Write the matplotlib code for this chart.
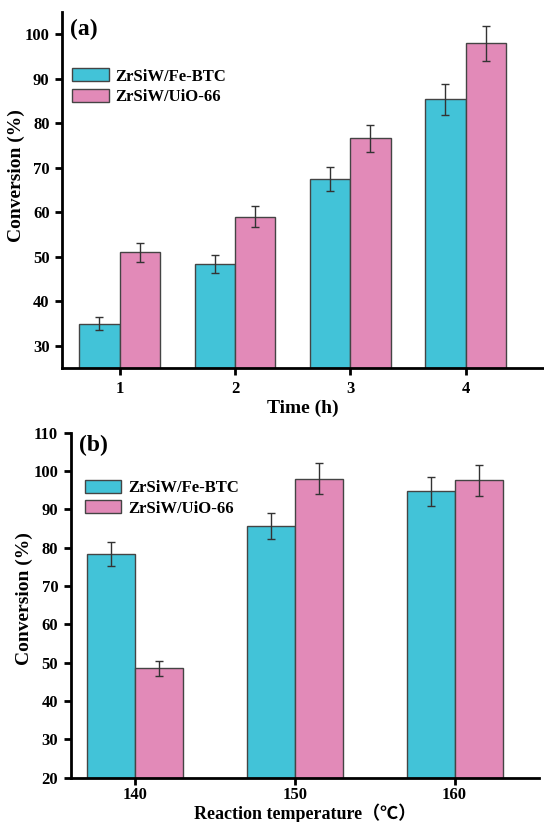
import matplotlib
matplotlib.use("Agg")
import matplotlib.pyplot as plt
import numpy as np

plt.rcParams['font.family'] = ['Liberation Serif', 'Noto Sans CJK SC', 'DejaVu Sans']
plt.rcParams['font.weight'] = 'bold'

series = ['ZrSiW/Fe-BTC', 'ZrSiW/UiO-66']
colors = ['#42C3D8', '#E28AB8']

# panel (a): conversion vs time
time_h = [1, 2, 3, 4]
fe_time = [35.0, 48.4, 67.5, 85.4]
fe_time_err = [1.5, 2.0, 2.7, 3.5]
uio_time = [51.0, 59.0, 76.6, 98.0]
uio_time_err = [2.2, 2.4, 3.0, 3.9]

# panel (b): conversion vs reaction temperature
temp_c = [140, 150, 160]
fe_temp = [78.3, 85.6, 94.7]
fe_temp_err = [3.1, 3.4, 3.8]
uio_temp = [48.5, 98.0, 97.6]
uio_temp_err = [2.0, 4.0, 4.0]

fig = plt.figure(figsize=(5.44, 8.22), dpi=100)
ax1 = fig.add_axes([0.114, 0.5523, 0.886, 0.4331])
ax2 = fig.add_axes([0.130, 0.0539, 0.8614, 0.4197])

err_kw = dict(ecolor='#333333', elinewidth=1.0, capsize=3, capthick=1.0)


def style(ax):
    for s in ['top', 'right']:
        ax.spines[s].set_visible(False)
    for s in ['left', 'bottom']:
        ax.spines[s].set_linewidth(2)
    ax.tick_params(direction='out', length=5, width=2, labelsize=12, pad=4)
    for lab in ax.get_xticklabels() + ax.get_yticklabels():
        lab.set_fontweight('bold')


x = np.array(time_h, dtype=float)
w = 0.35
ax1.bar(x - w, fe_time, w, align='edge', color=colors[0], edgecolor='#444444',
        linewidth=1, yerr=fe_time_err, error_kw=err_kw, label=series[0])
ax1.bar(x, uio_time, w, align='edge', color=colors[1], edgecolor='#444444',
        linewidth=1, yerr=uio_time_err, error_kw=err_kw, label=series[1])
ax1.set_xlim(0.5, 4.68)
ax1.set_ylim(25, 105)
ax1.set_xticks(time_h)
ax1.set_yticks(range(30, 101, 10))
style(ax1)
ax1.set_xlabel('Time (h)', fontsize=14, fontweight='bold', labelpad=2)
ax1.set_ylabel('Conversion (%)', fontsize=14, fontweight='bold')
ax1.yaxis.set_label_coords(-0.077, 0.54)
ax1.text(0.017, 0.95, '(a)', transform=ax1.transAxes, fontsize=17,
         fontweight='bold', va='center', ha='left')
ax1.legend(loc='upper left', bbox_to_anchor=(-0.003, 0.875), frameon=False,
           handlelength=2.2, handleheight=0.85,
           labelspacing=0.25, handletextpad=0.4, borderpad=0.2,
           prop={'weight': 'bold', 'size': 12})

t = np.array(temp_c, dtype=float)
w2 = 3.0
ax2.bar(t - w2, fe_temp, w2, align='edge', color=colors[0], edgecolor='#444444',
        linewidth=1, yerr=fe_temp_err, error_kw=err_kw, label=series[0])
ax2.bar(t, uio_temp, w2, align='edge', color=colors[1], edgecolor='#444444',
        linewidth=1, yerr=uio_temp_err, error_kw=err_kw, label=series[1])
ax2.set_xlim(136, 165.3)
ax2.set_ylim(20, 110)
ax2.set_xticks(temp_c)
ax2.set_yticks(range(20, 111, 10))
style(ax2)
ax2.tick_params(axis='x', pad=2)
ax2.set_xlabel('Reaction temperature（℃）', fontsize=13, fontweight='bold',
               labelpad=0)
ax2.set_ylabel('Conversion (%)', fontsize=14, fontweight='bold')
ax2.yaxis.set_label_coords(-0.080, 0.52)
ax2.text(0.018, 0.964, '(b)', transform=ax2.transAxes, fontsize=17,
         fontweight='bold', va='center', ha='left')
ax2.legend(loc='upper left', bbox_to_anchor=(0.005, 0.898), frameon=False,
           handlelength=2.2, handleheight=0.85,
           labelspacing=0.25, handletextpad=0.4, borderpad=0.2,
           prop={'weight': 'bold', 'size': 12})

fig.savefig('out.png', dpi=100)
